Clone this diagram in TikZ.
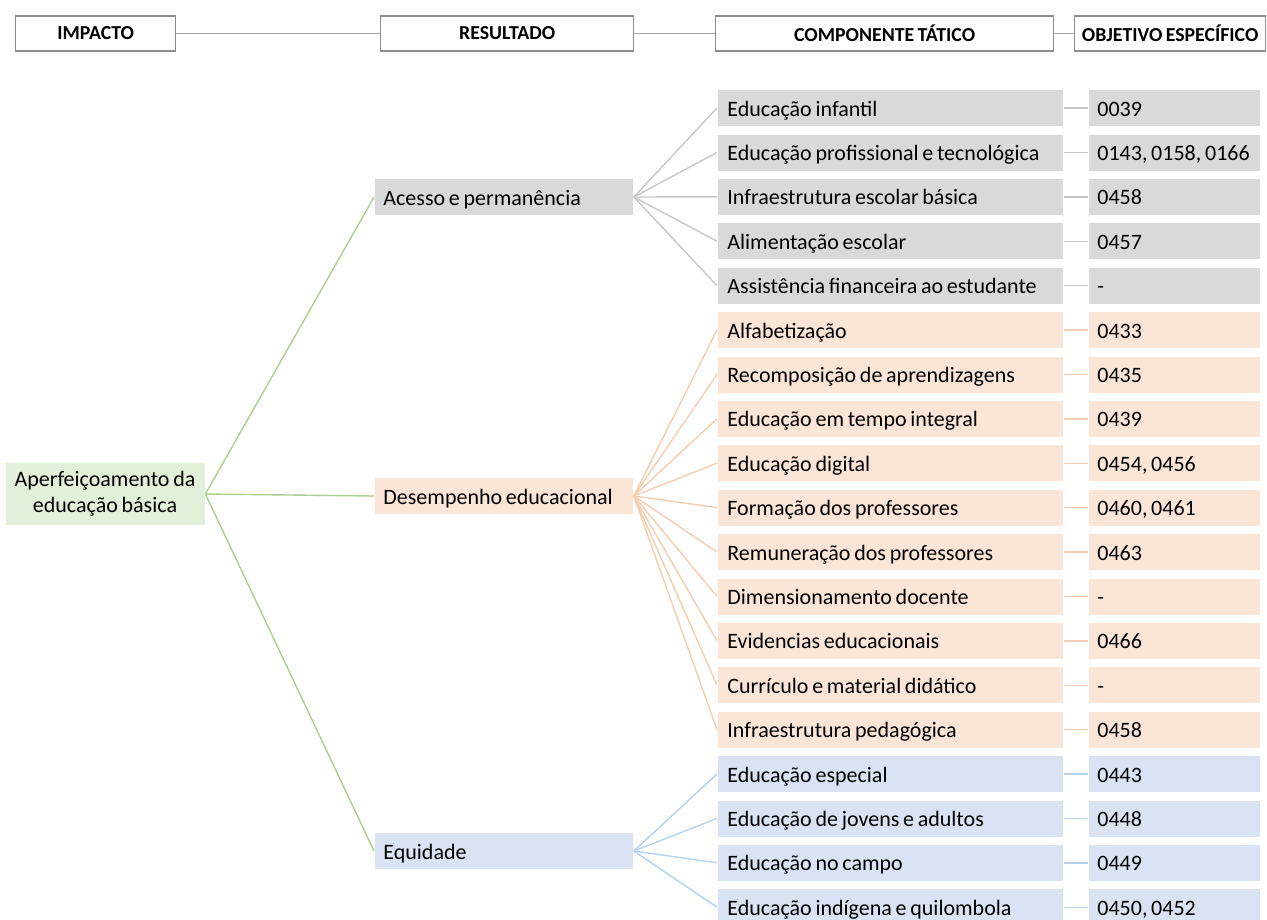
\documentclass[tikz,border=0pt]{standalone}
\usepackage{fontspec}
\setmainfont{Carlito}[WordSpace=0.75]
\definecolor{hdrline}{HTML}{8C8C8C}
\definecolor{hdrlink}{HTML}{A6A6A6}
\definecolor{grayfill}{HTML}{D9D9D9}
\definecolor{grayline}{HTML}{C8C8C8}
\definecolor{peachfill}{HTML}{FBE5D6}
\definecolor{peachline}{HTML}{F6CDB0}
\definecolor{bluefill}{HTML}{DAE3F3}
\definecolor{blueline}{HTML}{B4D2EC}
\definecolor{greenfill}{HTML}{E2F0D9}
\definecolor{greenline}{HTML}{A9D18E}
\newcommand{\lbox}[2]{\makebox[#1][l]{#2}}
\tikzset{
  header/.style={draw=hdrline, line width=1.3pt, fill=white, minimum height=35pt,
    inner sep=0pt, font=\fontsize{19.8}{22}\selectfont\bfseries, anchor=west},
  cell/.style={minimum height=37pt, inner ysep=0pt, text height=20pt, text depth=4pt,
    anchor=west, font=\fontsize{22}{24}\selectfont, draw=white, line width=0.8pt},
  result/.style={cell, inner xsep=9pt},
  comp/.style={cell, inner xsep=10pt},
  obj/.style={cell, inner xsep=9pt},
  link/.style={line width=1.4pt},
}
\begin{document}
\begin{tikzpicture}[x=1pt,y=-1pt]
\useasboundingbox (0,0) rectangle (1267,919);

% column headers
\node[header, minimum width=160pt] (hImp) at (15,33.5) {IMPACTO};
\node[header, minimum width=253pt] (hRes) at (380,33.5) {RESULTADO};
\node[header, minimum width=338pt] (hComp) at (715,33.5) {COMPONENTE TÁTICO};
\node[header, minimum width=191pt] (hObj) at (1074,33.5) {OBJETIVO ESPECÍFICO};
\draw[hdrlink, line width=1.2pt] (hImp) -- (hRes);
\draw[hdrlink, line width=1.2pt] (hRes) -- (hComp);
\draw[hdrlink, line width=1.2pt] (hComp) -- (hObj);

% impact
\node[fill=greenfill, draw=white, line width=0.8pt, minimum width=200pt, minimum height=63pt,
  align=center, font=\fontsize{22}{26}\selectfont, inner sep=0pt] (root) at (105,494)
  {Aperfeiçoamento da\\educação básica};

% results
\node[result, fill=grayfill] (rA) at (374,197) {\lbox{241pt}{Acesso e permanência}};
\node[result, fill=peachfill] (rD) at (374,496) {\lbox{241pt}{Desempenho educacional}};
\node[result, fill=bluefill] (rE) at (374,851) {\lbox{241pt}{Equidade}};

\draw[greenline, link] (root.east) -- (rA.west);
\draw[greenline, link] (root.east) -- (rD.west);
\draw[greenline, link] (root.east) -- (rE.west);

% tactical components and specific objectives
\foreach \i/\grp/\comp/\obj in {
  0/gray/Educação infantil/0039,
  1/gray/Educação profissional e tecnológica/{0143, 0158, 0166},
  2/gray/Infraestrutura escolar básica/0458,
  3/gray/Alimentação escolar/0457,
  4/gray/Assistência financeira ao estudante/-,
  5/peach/Alfabetização/0433,
  6/peach/Recomposição de aprendizagens/0435,
  7/peach/Educação em tempo integral/0439,
  8/peach/Educação digital/{0454, 0456},
  9/peach/Formação dos professores/{0460, 0461},
  10/peach/Remuneração dos professores/0463,
  11/peach/Dimensionamento docente/-,
  12/peach/Evidencias educacionais/0466,
  13/peach/Currículo e material didático/-,
  14/peach/Infraestrutura pedagógica/0458,
  15/blue/Educação especial/0443,
  16/blue/Educação de jovens e adultos/0448,
  17/blue/Educação no campo/0449,
  18/blue/Educação indígena e quilombola/{0450, 0452}} {
  \node[comp, fill=\grp fill] (c\i) at (717,108+44.4*\i) {\lbox{326pt}{\comp}};
  \node[obj, fill=\grp fill] (o\i) at (1088,108+44.4*\i) {\lbox{154pt}{\obj}};
  \draw[\grp line, link] (c\i.east) -- (o\i.west);
}

\foreach \i in {0,...,4} \draw[grayline, link] (rA.east) -- (c\i.west);
\foreach \i in {5,...,14} \draw[peachline, link] (rD.east) -- (c\i.west);
\foreach \i in {15,...,18} \draw[blueline, link] (rE.east) -- (c\i.west);
\end{tikzpicture}
\end{document}
